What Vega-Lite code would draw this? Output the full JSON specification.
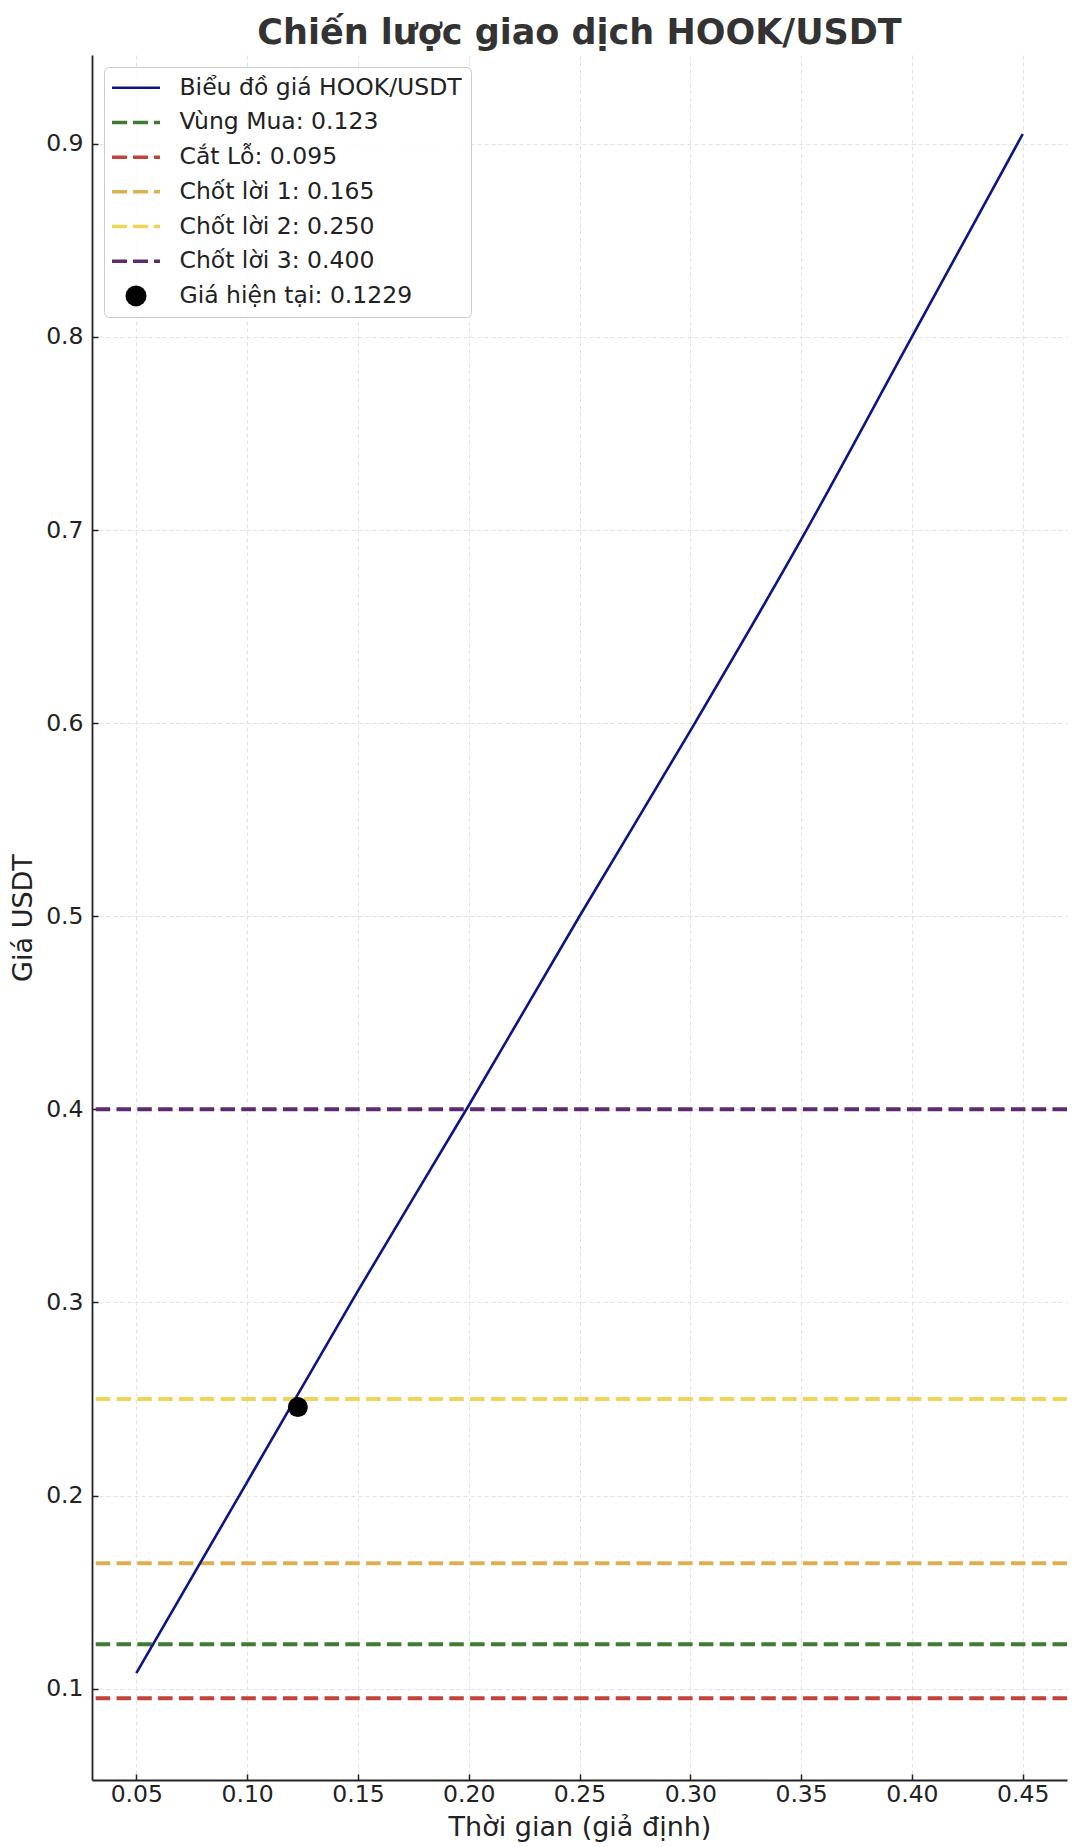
{
  "$schema": "https://vega.github.io/schema/vega-lite/v6.json",
  "width": 975,
  "height": 1725,
  "autosize": {"type": "none"},
  "padding": {"left": 92, "top": 55, "right": 13, "bottom": 67},
  "background": "white",
  "title": {"text": "Chiến lược giao dịch HOOK/USDT", "font": "DejaVu Sans", "fontSize": 35, "fontWeight": "bold", "color": "#333333", "anchor": "middle", "offset": 4},
  "config": {
    "view": {"stroke": null},
    "axis": {
      "domainColor": "#222222", "domainWidth": 1.8,
      "tickColor": "#222222", "tickWidth": 1.5, "tickSize": -6,
      "labelFont": "DejaVu Sans", "labelFontSize": 23.5, "labelColor": "#222222",
      "titleFont": "DejaVu Sans", "titleFontSize": 27, "titleFontWeight": "normal", "titleColor": "#222222",
      "gridColor": "#e2e2e2", "gridDash": [4, 3], "gridWidth": 1
    }
  },
  "datasets": {
    "line": [
      {"series": "Biểu đồ giá HOOK/USDT", "x": 0.05, "y": 0.108},
      {"series": "Biểu đồ giá HOOK/USDT", "x": 0.10, "y": 0.207},
      {"series": "Biểu đồ giá HOOK/USDT", "x": 0.15, "y": 0.306},
      {"series": "Biểu đồ giá HOOK/USDT", "x": 0.20, "y": 0.402},
      {"series": "Biểu đồ giá HOOK/USDT", "x": 0.25, "y": 0.500},
      {"series": "Biểu đồ giá HOOK/USDT", "x": 0.30, "y": 0.596},
      {"series": "Biểu đồ giá HOOK/USDT", "x": 0.35, "y": 0.695},
      {"series": "Biểu đồ giá HOOK/USDT", "x": 0.40, "y": 0.800},
      {"series": "Biểu đồ giá HOOK/USDT", "x": 0.45, "y": 0.905}
    ],
    "levels": [
      {"series": "Vùng Mua: 0.123", "y": 0.123},
      {"series": "Cắt Lỗ: 0.095", "y": 0.095},
      {"series": "Chốt lời 1: 0.165", "y": 0.165},
      {"series": "Chốt lời 2: 0.250", "y": 0.25},
      {"series": "Chốt lời 3: 0.400", "y": 0.4}
    ],
    "current": [
      {"series": "Giá hiện tại: 0.1229", "x": 0.1229, "y": 0.2458}
    ]
  },
  "layer": [
    {
      "data": {"name": "levels"},
      "mark": {"type": "rule", "strokeWidth": 4, "strokeDash": [14.5, 6.3]},
      "encoding": {
        "y": {"field": "y", "type": "quantitative", "scale": {"domain": [0.0527, 0.946], "nice": false, "zero": false}},
        "color": {"field": "series", "type": "nominal"}
      }
    },
    {
      "data": {"name": "line"},
      "mark": {"type": "line", "strokeWidth": 2.6, "interpolate": "monotone"},
      "encoding": {
        "x": {"field": "x", "type": "quantitative",
          "scale": {"domain": [0.03, 0.47], "nice": false, "zero": false},
          "axis": {"title": "Thời gian (giả định)", "values": [0.05, 0.1, 0.15, 0.2, 0.25, 0.3, 0.35, 0.4, 0.45], "format": ".2f", "labelPadding": 8, "titlePadding": 9}},
        "y": {"field": "y", "type": "quantitative",
          "scale": {"domain": [0.0527, 0.946], "nice": false, "zero": false},
          "axis": {"title": "Giá USDT", "values": [0.1, 0.2, 0.3, 0.4, 0.5, 0.6, 0.7, 0.8, 0.9], "format": ".1f", "labelPadding": 15, "titlePadding": 8}},
        "color": {"field": "series", "type": "nominal",
          "scale": {
            "domain": ["Biểu đồ giá HOOK/USDT", "Vùng Mua: 0.123", "Cắt Lỗ: 0.095", "Chốt lời 1: 0.165", "Chốt lời 2: 0.250", "Chốt lời 3: 0.400", "Giá hiện tại: 0.1229"],
            "range": ["#0b1488", "#3f7b32", "#c1443a", "#deaf52", "#f0d458", "#5d2a6f", "#000000"]
          },
          "legend": {
            "orient": "top-left", "offset": 12,
            "title": null,
            "labelFont": "DejaVu Sans", "labelFontSize": 23.5, "labelColor": "#222222", "labelLimit": 0,
            "symbolType": "stroke", "symbolSize": 2304, "symbolStrokeWidth": 3.3,
            "labelOffset": 43, "rowPadding": 9.7, "padding": 9,
            "strokeColor": "#cccccc", "fillColor": "rgba(255,255,255,0.85)", "cornerRadius": 5,
            "encode": {
              "symbols": {
                "update": {
                  "x": {"value": 23},
                  "shape": {"signal": "datum.value === 'Giá hiện tại: 0.1229' ? 'circle' : 'stroke'"},
                  "size": {"signal": "datum.value === 'Giá hiện tại: 0.1229' ? 441 : 2304"},
                  "strokeDash": {"signal": "(datum.value === 'Biểu đồ giá HOOK/USDT' || datum.value === 'Giá hiện tại: 0.1229') ? [1, 0] : [15, 6]"},
                  "fill": {"signal": "datum.value === 'Giá hiện tại: 0.1229' ? '#000000' : 'transparent'"},
                  "stroke": {"scale": "color", "field": "value"},
                  "strokeWidth": {"signal": "datum.value === 'Giá hiện tại: 0.1229' ? 0 : (datum.value === 'Biểu đồ giá HOOK/USDT' ? 2.6 : 3.5)"},
                  "opacity": {"value": 1}
                }
              }
            }
          }
        }
      }
    },
    {
      "data": {"name": "current"},
      "mark": {"type": "point", "filled": true, "size": 400, "opacity": 1},
      "encoding": {
        "x": {"field": "x", "type": "quantitative"},
        "y": {"field": "y", "type": "quantitative"},
        "color": {"field": "series", "type": "nominal"}
      }
    }
  ]
}
